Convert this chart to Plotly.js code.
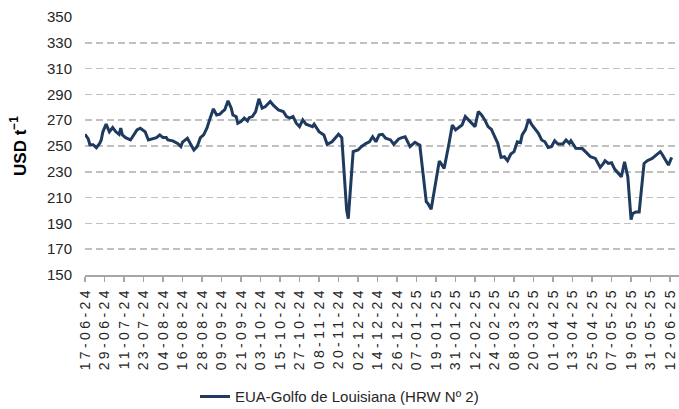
<!DOCTYPE html>
<html>
<head>
<meta charset="utf-8">
<script src="https://cdn.plot.ly/plotly-3.0.1.min.js"></script>
<style>
  html, body { margin: 0; padding: 0; background: #fff; }
  #chart { width: 679px; height: 409px; }
  .xtick text { letter-spacing: 3.4px; }
</style>
</head>
<body>
<div id="chart"></div>
<script>
// Series: EUA-Golfo de Louisiana (HRW Nº 2), USD per tonne
const seriesName = "EUA-Golfo de Louisiana (HRW Nº 2)";
const dates = [
  "2024-06-17","2024-06-19","2024-06-20","2024-06-22","2024-06-24","2024-06-26","2024-06-27","2024-06-28","2024-06-30",
  "2024-07-02","2024-07-04","2024-07-06","2024-07-08","2024-07-09","2024-07-10","2024-07-12","2024-07-15","2024-07-17",
  "2024-07-19","2024-07-21","2024-07-24","2024-07-26","2024-07-29","2024-07-31",
  "2024-08-02","2024-08-04","2024-08-06","2024-08-07","2024-08-10","2024-08-13","2024-08-15","2024-08-16","2024-08-19",
  "2024-08-21","2024-08-23","2024-08-25","2024-08-27","2024-08-29","2024-08-31",
  "2024-09-02","2024-09-04","2024-09-06","2024-09-08","2024-09-10","2024-09-11","2024-09-13","2024-09-15","2024-09-16",
  "2024-09-18","2024-09-19","2024-09-21","2024-09-23","2024-09-25","2024-09-26","2024-09-28","2024-09-30",
  "2024-10-02","2024-10-04","2024-10-06","2024-10-09","2024-10-11","2024-10-14","2024-10-17","2024-10-19","2024-10-21",
  "2024-10-23","2024-10-25","2024-10-27","2024-10-29","2024-10-31",
  "2024-11-04","2024-11-05","2024-11-08","2024-11-11","2024-11-13","2024-11-16","2024-11-19","2024-11-20","2024-11-22",
  "2024-11-24","2024-11-25","2024-11-26","2024-11-29",
  "2024-12-02","2024-12-04","2024-12-07","2024-12-09","2024-12-11","2024-12-13","2024-12-15","2024-12-17","2024-12-19",
  "2024-12-22","2024-12-24","2024-12-27","2024-12-29","2024-12-31",
  "2025-01-03","2025-01-06","2025-01-08","2025-01-09","2025-01-13","2025-01-14","2025-01-16","2025-01-18","2025-01-21",
  "2025-01-22","2025-01-24","2025-01-27","2025-01-29","2025-01-31",
  "2025-02-02","2025-02-04","2025-02-06","2025-02-08","2025-02-12","2025-02-14","2025-02-16","2025-02-18","2025-02-20",
  "2025-02-22","2025-02-24","2025-02-26","2025-02-28",
  "2025-03-02","2025-03-04","2025-03-06","2025-03-08","2025-03-10","2025-03-12","2025-03-13","2025-03-15","2025-03-17",
  "2025-03-19","2025-03-21","2025-03-23","2025-03-25","2025-03-27","2025-03-29","2025-03-31",
  "2025-04-02","2025-04-04","2025-04-07","2025-04-09","2025-04-11","2025-04-12","2025-04-15","2025-04-17","2025-04-19",
  "2025-04-22","2025-04-24","2025-04-27","2025-04-30",
  "2025-05-02","2025-05-03","2025-05-05","2025-05-07","2025-05-09","2025-05-11","2025-05-13","2025-05-15","2025-05-17",
  "2025-05-19","2025-05-20","2025-05-22","2025-05-24","2025-05-27","2025-05-29",
  "2025-06-01","2025-06-03","2025-06-06","2025-06-07","2025-06-10","2025-06-11","2025-06-13"
];
const prices = [
  259.1,255.5,251,251,248.7,252,254.7,261,267,
  261,264.3,261,259,263.8,258.6,256.5,254.7,258.6,
  262.5,263.8,261,254.7,255.5,256.5,
  258.6,256.5,256.5,254.7,254,252,249.5,253,256,
  251.3,246.9,249.5,256.5,258.6,263.8,
  271.6,278.8,274,274.7,277.2,278,285,279.3,274,
  272.8,267.7,269,271.6,269.5,272,272.8,276.7,
  286.6,279.3,280.6,284.5,281.4,278,276.7,272.8,271.6,
  272.8,267.7,265,270.2,266.9,
  265,266.9,261.1,258.6,251.3,253.3,257.2,259.1,256.5,
  219.7,200.2,193.7,245.6,
  246.9,249.5,252.1,253.3,257.2,253.3,258.6,259,256,
  254.7,251.3,255.5,256.5,257.2,
  249.5,252.9,251.3,250.8,206.7,205.4,201,217.1,238.3,
  236.5,232.6,252.1,266.3,262.5,
  264.2,266.3,272.8,270.2,265,276.7,274,270.2,265,
  263,257.2,252.1,241.2,
  241.7,238.6,243.8,245.6,253.3,252.6,258.6,262.5,270.8,
  266.3,263,259.9,254.7,253.3,248.9,249.5,
  254.1,251.6,251.6,254.7,252.1,254.1,248.2,248.2,248,
  244.3,241.7,240.4,233.4,
  236.5,238.6,236.5,237,231.9,228.8,226.1,237.8,226.1,
  193,197.6,198.9,198.9,236.5,238.6,
  240.4,242.2,245.6,243.8,237.8,235.2,241.2
];
const xStart = "2024-06-17";
const xEnd = "2025-06-17 12:00";
const yTicks = [150,170,190,210,230,250,270,290,310,330,350];
const yTitle = "USD t<sup>−1</sup>";

const trace = {
  x: dates, y: prices, type: "scatter", mode: "lines", name: seriesName,
  line: { color: "#1f3a5f", width: 3 }
};

const layout = {
  width: 679, height: 409,
  margin: { l: 85, r: 0, t: 17, b: 134 },
  paper_bgcolor: "#ffffff", plot_bgcolor: "#ffffff",
  font: { family: "Liberation Sans, Arial, sans-serif", size: 15, color: "#262626" },
  showlegend: true,
  legend: {
    orientation: "h", xref: "container", yref: "container",
    x: 0.5, xanchor: "center", y: 0.03, yanchor: "middle",
    font: { family: "Liberation Sans, Arial, sans-serif", size: 15, color: "#262626" }
  },
  xaxis: {
    type: "date", range: [xStart, xEnd],
    tick0: xStart, dtick: 12 * 86400000, tickformat: "%d-%m-%y",
    tickangle: -90, ticks: "outside", ticklen: 5, tickwidth: 1.5, tickcolor: "#a6a6a6",
    ticklabeloverflow: "allow",
    showline: true, linecolor: "#a6a6a6", linewidth: 1.5, showgrid: false, zeroline: false,
    tickfont: { family: "Liberation Sans, Arial, sans-serif", size: 14, color: "#262626" }
  },
  yaxis: {
    range: [150, 350], tickvals: yTicks, ticks: "", ticklabelstandoff: 12,
    showgrid: true, gridcolor: "#c0c0c0", gridwidth: 1.6, griddash: "7px,4px",
    showline: false, zeroline: false,
    tickfont: { family: "Liberation Sans, Arial, sans-serif", size: 15, color: "#262626" },
    title: { text: yTitle, standoff: 16, font: { family: "Liberation Sans, Arial, sans-serif", size: 17, weight: "bold", color: "#000" } }
  }
};

Plotly.newPlot("chart", [trace], layout, { displayModeBar: false, staticPlot: true });
</script>
</body>
</html>
